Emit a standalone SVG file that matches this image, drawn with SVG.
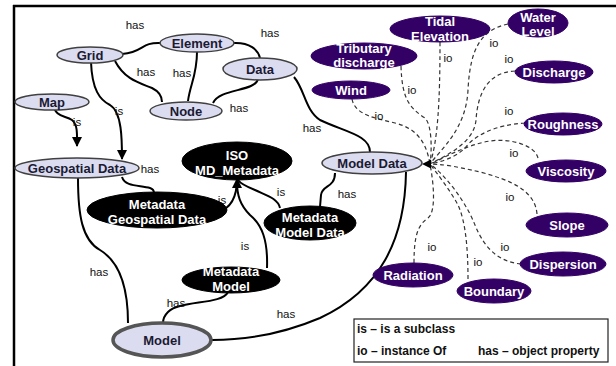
<svg xmlns="http://www.w3.org/2000/svg" width="616" height="366" viewBox="0 0 616 366">
<defs>
<marker id="arr" viewBox="0 0 10 10" refX="9" refY="5" markerWidth="5" markerHeight="5" orient="auto" markerUnits="strokeWidth">
<path d="M0,0 L10,5 L0,10 z" fill="#000"/>
</marker>
</defs>
<style>
.light{fill:#dcdcf0;stroke:#404040;stroke-width:1.5}
.blk{fill:#000;stroke:#000}
.pur{fill:#330066;stroke:#330066}
.lt{font-family:"Liberation Sans",Arial,sans-serif;font-weight:bold;font-size:13px;fill:#1a1a33;text-anchor:middle}
.wt{font-family:"Liberation Sans",Arial,sans-serif;font-weight:bold;font-size:13px;fill:#fff;text-anchor:middle}
.lbl{font-family:"Liberation Sans",Arial,sans-serif;font-size:11.5px;fill:#111;text-anchor:middle}
.leg{font-family:"Liberation Sans",Arial,sans-serif;font-weight:bold;font-size:12px;fill:#111}
.solid{fill:none;stroke:#000;stroke-width:2}
.dash{fill:none;stroke:#333;stroke-width:1.2;stroke-dasharray:4 3}
</style>
<rect width="616" height="366" fill="#fff"/>
<path d="M13,6 H616 M14,5 V366" fill="none" stroke="#000" stroke-width="2.5"/>

<g id="connectors">
<path class="solid" d="M122,54 C145,52 140,42 161,43"/>
<path class="solid" d="M233,43 C250,42 258,50 260,58"/>
<path class="solid" d="M115,61 C125,80 140,83 152,88 C160,92 162,98 162,102"/>
<path class="solid" d="M197,52 C197,75 190,85 188,101"/>
<path class="solid" d="M258,79 C255,92 220,88 213,103"/>
<path class="solid" d="M294,77 C305,90 305,110 320,120 C345,132 370,135 370,152"/>
<path class="solid" d="M91,62 C92,90 100,100 110,105 C122,112 122,140 122,159" marker-end="url(#arr)"/>
<path class="solid" d="M53,103 C55,118 65,115 72,120 C78,125 77,135 77,146" marker-end="url(#arr)"/>
<path class="solid" d="M122,177 C125,187 140,185 150,188 C153,189 154,191 154,193"/>
<path class="solid" d="M78,178 C78,215 82,240 100,250 C120,262 128,290 128,323"/>
<path class="solid" d="M218,212 C232,208 237,195 237,179" marker-end="url(#arr)"/>
<path class="solid" d="M267,268 C268,240 262,225 250,215 C240,205 237,195 237,182"/>
<path class="solid" d="M280,208 C278,198 265,195 255,190 C245,186 240,183 238,180"/>
<path class="solid" d="M335,173 C335,188 322,185 321,195 L320,207"/>
<path class="solid" d="M406,172 C405,240 380,290 320,318 C280,335 240,340 212,340"/>
<path class="solid" d="M228,292 C222,305 180,300 168,312 C164,316 163,320 163,323"/>

<path class="dash" d="M440,42 C440,100 438,140 430,164"/>
<path class="dash" d="M508,24 C480,30 470,50 468,90 C466,130 440,150 430,164"/>
<path class="dash" d="M515,71 C490,72 478,90 476,120 C474,145 440,158 430,164"/>
<path class="dash" d="M401,66 C402,100 410,108 425,118 C432,125 432,150 430,164"/>
<path class="dash" d="M352,99 C355,115 375,118 395,123 C415,128 426,140 430,164"/>
<path class="dash" d="M525,123 C495,125 475,135 465,148 C455,158 440,162 430,164"/>
<path class="dash" d="M538,158 C535,145 510,138 490,141 C465,145 440,160 430,164"/>
<path class="dash" d="M537,214 C535,190 510,180 480,172 C455,166 440,164 430,164"/>
<path class="dash" d="M521,264 C500,262 485,250 475,225 C465,200 445,175 430,164"/>
<path class="dash" d="M468,279 C468,245 465,220 458,205 C450,190 436,172 430,164"/>
<path class="dash" d="M414,263 C414,235 418,225 428,218 C436,212 434,185 430,164"/>
<path d="M422,164 L431,159.5 L431,168.5 z" fill="#000"/>
</g>

<g id="edge-labels">
<text class="lbl" x="135" y="29">has</text>
<text class="lbl" x="270" y="37">has</text>
<text class="lbl" x="146" y="76">has</text>
<text class="lbl" x="182" y="77">has</text>
<text class="lbl" x="239" y="112">has</text>
<text class="lbl" x="119" y="115">is</text>
<text class="lbl" x="77" y="126">is</text>
<text class="lbl" x="150" y="173">has</text>
<text class="lbl" x="312" y="132">has</text>
<text class="lbl" x="222" y="204">is</text>
<text class="lbl" x="281" y="196">is</text>
<text class="lbl" x="245" y="250">is</text>
<text class="lbl" x="347" y="198">has</text>
<text class="lbl" x="99" y="276">has</text>
<text class="lbl" x="176" y="307">has</text>
<text class="lbl" x="286" y="318">has</text>
<text class="lbl" x="448" y="62">io</text>
<text class="lbl" x="494" y="47">io</text>
<text class="lbl" x="509" y="63">io</text>
<text class="lbl" x="412" y="94">io</text>
<text class="lbl" x="379" y="120">io</text>
<text class="lbl" x="509" y="115">io</text>
<text class="lbl" x="514" y="157">io</text>
<text class="lbl" x="510" y="201">io</text>
<text class="lbl" x="505" y="251">io</text>
<text class="lbl" x="478" y="266">io</text>
<text class="lbl" x="432" y="251">io</text>
</g>

<g id="grid"><ellipse class="light" cx="90" cy="55" rx="33" ry="8"/><text class="lt" x="90" y="60">Grid</text></g>
<g id="element"><ellipse class="light" cx="197" cy="43" rx="37" ry="9"/><text class="lt" x="197" y="48">Element</text></g>
<g id="data"><ellipse class="light" cx="260" cy="69" rx="37" ry="11"/><text class="lt" x="260" y="74">Data</text></g>
<g id="node"><ellipse class="light" cx="186" cy="111" rx="36" ry="9"/><text class="lt" x="186" y="116">Node</text></g>
<g id="map"><ellipse class="light" cx="52" cy="102" rx="37" ry="8"/><text class="lt" x="52" y="107">Map</text></g>
<g id="geospatial-data"><ellipse class="light" cx="77" cy="168" rx="62" ry="10"/><text class="lt" x="77" y="173">Geospatial Data</text></g>
<g id="model-data"><ellipse class="light" cx="372" cy="163" rx="50" ry="11"/><text class="lt" x="372" y="168">Model Data</text></g>
<g id="model"><ellipse class="light" cx="162" cy="340" rx="49" ry="17" style="stroke:#555;stroke-width:3.5"/><text class="lt" x="162" y="345">Model</text></g>

<g id="iso-md-metadata"><ellipse class="blk" cx="237" cy="161" rx="55" ry="19"/><text class="wt" x="237" y="160">ISO</text><text class="wt" x="237" y="175">MD_Metadata</text></g>
<g id="metadata-geospatial-data"><ellipse class="blk" cx="157" cy="210" rx="70" ry="18"/><text class="wt" x="157" y="209">Metadata</text><text class="wt" x="157" y="224">Geospatial Data</text></g>
<g id="metadata-model-data"><ellipse class="blk" cx="310" cy="223" rx="46" ry="17"/><text class="wt" x="310" y="222">Metadata</text><text class="wt" x="310" y="237">Model Data</text></g>
<g id="metadata-model"><ellipse class="blk" cx="231" cy="280" rx="49" ry="13"/><text class="wt" x="231" y="276">Metadata</text><text class="wt" x="231" y="291">Model</text></g>

<g id="tidal-elevation"><ellipse class="pur" cx="440" cy="29" rx="50" ry="13"/><text class="wt" x="440" y="26">Tidal</text><text class="wt" x="440" y="41">Elevation</text></g>
<g id="water-level"><ellipse class="pur" cx="538" cy="23" rx="30" ry="14"/><text class="wt" x="538" y="22">Water</text><text class="wt" x="538" y="36">Level</text></g>
<g id="tributary-discharge"><ellipse class="pur" cx="364" cy="56" rx="53" ry="13"/><text class="wt" x="364" y="53">Tributary</text><text class="wt" x="364" y="67">discharge</text></g>
<g id="discharge"><ellipse class="pur" cx="554" cy="72" rx="39" ry="11"/><text class="wt" x="554" y="77">Discharge</text></g>
<g id="wind"><ellipse class="pur" cx="351" cy="90" rx="39" ry="9"/><text class="wt" x="351" y="95">Wind</text></g>
<g id="roughness"><ellipse class="pur" cx="563" cy="124" rx="39" ry="11"/><text class="wt" x="563" y="129">Roughness</text></g>
<g id="viscosity"><ellipse class="pur" cx="566" cy="171" rx="40" ry="11"/><text class="wt" x="566" y="176">Viscosity</text></g>
<g id="slope"><ellipse class="pur" cx="567" cy="225" rx="41" ry="12"/><text class="wt" x="567" y="230">Slope</text></g>
<g id="dispersion"><ellipse class="pur" cx="563" cy="264" rx="43" ry="12"/><text class="wt" x="563" y="269">Dispersion</text></g>
<g id="boundary"><ellipse class="pur" cx="494" cy="291" rx="37" ry="12"/><text class="wt" x="494" y="296">Boundary</text></g>
<g id="radiation"><ellipse class="pur" cx="413" cy="275" rx="40" ry="12"/><text class="wt" x="413" y="280">Radiation</text></g>

<g id="legend">
<rect x="354" y="319" width="254" height="43" fill="#fff" stroke="#222" stroke-width="1.2"/>
<text class="leg" x="357" y="333">is – is a subclass</text>
<text class="leg" x="357" y="355">io – instance Of</text>
<text class="leg" x="478" y="355">has – object property</text>
</g>
</svg>
